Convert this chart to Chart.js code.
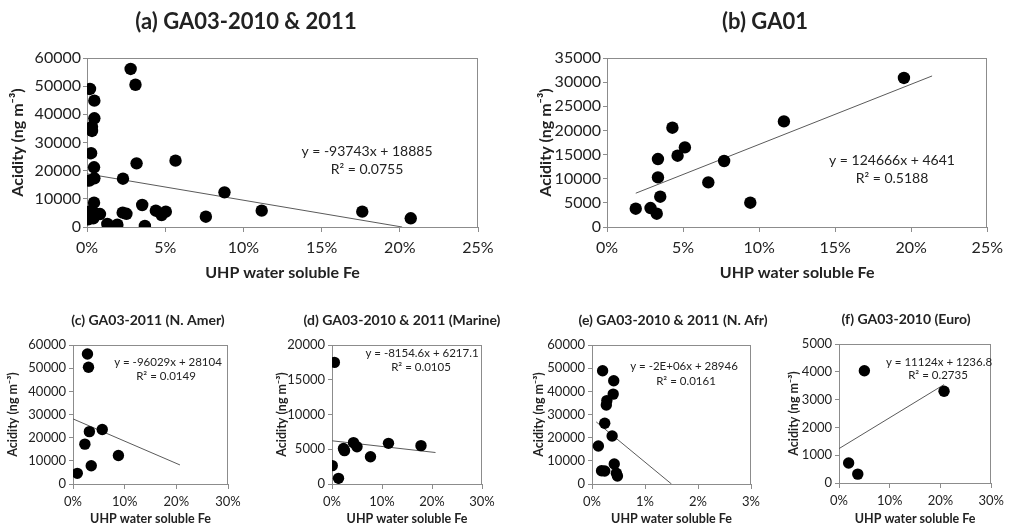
<!DOCTYPE html>
<html>
<head>
<meta charset="utf-8">
<script src="https://cdn.jsdelivr.net/npm/chart.js@4.4.0/dist/chart.umd.min.js"></script>
<style>
  html, body { margin: 0; padding: 0; background: #fff; overflow: hidden; }
  body { width: 1009px; height: 525px; position: relative; }
  canvas { position: absolute; }
</style>
</head>
<body>
<canvas id="pa"></canvas>
<canvas id="pb"></canvas>
<canvas id="pc"></canvas>
<canvas id="pd"></canvas>
<canvas id="pe"></canvas>
<canvas id="pf"></canvas>
<script>
// (a) GA03-2010 & 2011
const aFe = [0.0019, 0.0279, 0.031, 0.0047, 0.0047, 0.0032, 0.0032, 0.0026, 0.0045, 0.0317, 0.0566, 0.023, 0.0015, 0.0047, 0.0879, 0.0045, 0.0353, 0.0019, 0.0024, 0.0051, 0.0083, 0.0008, 0.004, 0.013, 0.0194, 0.0228, 0.0252, 0.037, 0.044, 0.0477, 0.0504, 0.076, 0.1117, 0.176, 0.207];
const aAcid = [49000, 56100, 50500, 44850, 38600, 35600, 34100, 26200, 21200, 22600, 23550, 17150, 16450, 17300, 12300, 8630, 7810, 5430, 5600, 4860, 4600, 2730, 3090, 1070, 820, 5100, 4700, 360, 5790, 4260, 5430, 3650, 5800, 5450, 3100];
const aTrendFe = [0, 0.2015];
const aTrendAcid = [18885, 0];

// (b) GA01
const bFe = [0.0189, 0.0286, 0.0327, 0.035, 0.0335, 0.0335, 0.043, 0.0464, 0.0512, 0.0666, 0.077, 0.0942, 0.1163, 0.1952];
const bAcid = [3790, 3930, 2750, 6280, 10270, 14080, 20560, 14770, 16490, 9240, 13670, 5030, 21870, 30860];
const bTrendFe = [0.0189, 0.2137];
const bTrendAcid = [6997, 31281];

// (c) GA03-2011 (N. Amer)
const cFe = [0.028, 0.030, 0.0566, 0.0317, 0.023, 0.0879, 0.0353, 0.0083];
const cAcid = [56100, 50400, 23550, 22600, 17200, 12300, 7850, 4600];
const cTrendFe = [0, 0.207];
const cTrendAcid = [28104, 8226];

// (d) GA03-2010 & 2011 (Marine)
const dFe = [0.0047, 0.0005, 0.013, 0.023, 0.025, 0.043, 0.05, 0.077, 0.113, 0.178];
const dAcid = [17500, 2640, 815, 5100, 4800, 5950, 5370, 3930, 5850, 5520];
const dTrendFe = [0, 0.207];
const dTrendAcid = [6217, 4529];

// (e) GA03-2010 & 2011 (N. Afr)
const eFe = [0.002, 0.0041, 0.004, 0.0028, 0.0027, 0.0024, 0.0038, 0.0012, 0.0042, 0.0018, 0.0024, 0.0046, 0.0048];
const eAcid = [48900, 44600, 38800, 36000, 34100, 26200, 20700, 16400, 8630, 5740, 5610, 4620, 3450];
const eTrendFe = [0.0008, 0.015];
const eTrendAcid = [26800, 0];

// (f) GA03-2010 (Euro)
const fFe = [0.019, 0.037, 0.05, 0.207];
const fAcid = [720, 320, 4040, 3300];
const fTrendFe = [0, 0.207];
const fTrendAcid = [1237, 3540];

const FONT = 'Lato, "Liberation Sans", sans-serif';
const AXIS = '#8c8c8c';
const INK = '#222';

// titles and trendline equations, drawn in page coordinates
const textPlugin = {
  id: 'panelText',
  afterDraw(chart, args, opts) {
    const ctx = chart.ctx;
    ctx.save();
    ctx.textAlign = 'center';
    ctx.textBaseline = 'middle';
    opts.items.forEach(t => {
      ctx.font = t.font;
      ctx.fillStyle = INK;
      ctx.fillText(t.text, t.x - opts.left, t.y - opts.top);
    });
    ctx.restore();
  }
};

// grey box round the plot area
const framePlugin = {
  id: 'frame',
  beforeDatasetsDraw(chart) {
    const a = chart.chartArea, ctx = chart.ctx;
    ctx.save();
    ctx.strokeStyle = AXIS;
    ctx.lineWidth = 1;
    ctx.strokeRect(Math.round(a.left) + 0.5, Math.round(a.top) + 0.5,
      Math.round(a.right - a.left) - 1, Math.round(a.bottom - a.top));
    ctx.restore();
  }
};

function makePanel(p) {
  const cv = document.getElementById(p.id);
  cv.width = p.box.w;
  cv.height = p.box.h;
  cv.style.left = p.box.left + 'px';
  cv.style.top = p.box.top + 'px';

  const big = p.big;
  const tickSize = big ? 16 : 13;
  const titleSize = big ? 16 : 12.5;
  const eqFont = (big ? 14 : 11.5) + 'px ' + FONT;
  const headFont = 'bold ' + (big ? 22 : 14) + 'px ' + FONT;

  const items = [{ text: p.title, x: p.titlePos[0], y: p.titlePos[1], font: headFont }];
  p.eq.forEach((line, i) => {
    items.push({ text: line, x: p.eqPos[i][0], y: p.eqPos[i][1], font: eqFont });
  });

  new Chart(cv.getContext('2d'), {
    type: 'scatter',
    data: {
      datasets: [{
        data: p.xs.map((x, i) => ({ x: x, y: p.ys[i] })),
        pointRadius: big ? 6.2 : 5.7,
        pointHoverRadius: big ? 6.2 : 5.7,
        pointBackgroundColor: '#000',
        pointBorderWidth: 0
      }, {
        data: p.tx.map((x, i) => ({ x: x, y: p.ty[i] })),
        showLine: true,
        borderColor: '#5a5a5a',
        borderWidth: 1,
        pointRadius: 0,
        pointHoverRadius: 0
      }]
    },
    options: {
      responsive: false,
      animation: false,
      events: [],
      layout: {
        padding: {
          left: 0,
          bottom: 0,
          top: p.area.y0 - p.box.top,
          right: p.box.left + p.box.w - p.area.x1
        }
      },
      plugins: {
        legend: { display: false },
        tooltip: { enabled: false },
        panelText: { items: items, left: p.box.left, top: p.box.top }
      },
      scales: {
        x: {
          type: 'linear',
          min: 0,
          max: p.xMax,
          afterFit: s => { s.height = p.box.top + p.box.h - p.area.y1; },
          ticks: {
            stepSize: p.xStep,
            callback: v => Math.round(v * 100) + '%',
            font: { family: FONT, size: tickSize },
            color: INK,
            padding: big ? 6 : 5,
            maxRotation: 0,
            autoSkip: false
          },
          grid: { drawOnChartArea: false, drawTicks: true, tickLength: 5, color: AXIS },
          border: { color: AXIS },
          title: {
            display: true,
            text: 'UHP water soluble Fe',
            color: INK,
            font: { family: FONT, size: titleSize, weight: 'bold' },
            padding: { top: 0, bottom: big ? 7.4 : 1.5 }
          }
        },
        y: {
          min: 0,
          max: p.yMax,
          afterFit: s => { s.width = p.area.x0 - p.box.left; },
          ticks: {
            stepSize: p.yStep,
            callback: v => String(v),
            font: { family: FONT, size: tickSize },
            color: INK,
            padding: big ? 2 : 3
          },
          grid: { drawOnChartArea: false, drawTicks: true, tickLength: 4, color: AXIS },
          border: { color: AXIS },
          title: {
            display: true,
            text: 'Acidity (ng m⁻³)',
            color: INK,
            font: { family: FONT, size: titleSize, weight: 'bold' },
            padding: { top: p.yTitlePad, bottom: 0 }
          }
        }
      }
    },
    plugins: [framePlugin, textPlugin]
  });
}

makePanel({
  id: 'pa', big: true,
  box: { left: 0, top: 0, w: 500, h: 290 },
  area: { x0: 87, x1: 478, y0: 58, y1: 227 },
  xs: aFe, ys: aAcid, tx: aTrendFe, ty: aTrendAcid,
  xMax: 0.25, xStep: 0.05, yMax: 60000, yStep: 10000, yTitlePad: 8.4,
  title: '(a) GA03-2010 & 2011', titlePos: [246, 22],
  eq: ['y = -93743x + 18885', 'R² = 0.0755'], eqPos: [[367, 151], [367, 169]]
});

makePanel({
  id: 'pb', big: true,
  box: { left: 520, top: 0, w: 489, h: 290 },
  area: { x0: 607, x1: 994, y0: 58, y1: 227 },
  xs: bFe, ys: bAcid, tx: bTrendFe, ty: bTrendAcid,
  xMax: 0.25, xStep: 0.05, yMax: 35000, yStep: 5000, yTitlePad: 16.4,
  title: '(b) GA01', titlePos: [765, 22],
  eq: ['y = 124666x + 4641', 'R² = 0.5188'], eqPos: [[892, 160], [892, 178]]
});

makePanel({
  id: 'pc', big: false,
  box: { left: 0, top: 300, w: 250, h: 228 },
  area: { x0: 73, x1: 228, y0: 345, y1: 484 },
  xs: cFe, ys: cAcid, tx: cTrendFe, ty: cTrendAcid,
  xMax: 0.3, xStep: 0.1, yMax: 60000, yStep: 10000, yTitlePad: 5.8,
  title: '(c) GA03-2011 (N. Amer)', titlePos: [148, 320],
  eq: ['y = -96029x + 28104', 'R² = 0.0149'], eqPos: [[168, 362], [166, 376]]
});

makePanel({
  id: 'pd', big: false,
  box: { left: 250, top: 300, w: 254, h: 228 },
  area: { x0: 332, x1: 482, y0: 345, y1: 484 },
  xs: dFe, ys: dAcid, tx: dTrendFe, ty: dTrendAcid,
  xMax: 0.3, xStep: 0.1, yMax: 20000, yStep: 5000, yTitlePad: 24.2,
  title: '(d) GA03-2010 & 2011 (Marine)', titlePos: [402, 320],
  eq: ['y = -8154.6x + 6217.1', 'R² = 0.0105'], eqPos: [[422, 353], [421, 367]]
});

makePanel({
  id: 'pe', big: false,
  box: { left: 500, top: 300, w: 272, h: 228 },
  area: { x0: 592, x1: 751, y0: 345, y1: 484 },
  xs: eFe, ys: eAcid, tx: eTrendFe, ty: eTrendAcid,
  xMax: 0.03, xStep: 0.01, yMax: 60000, yStep: 10000, yTitlePad: 31.5,
  title: '(e) GA03-2010 & 2011 (N. Afr)', titlePos: [673, 320],
  eq: ['y = -2E+06x + 28946', 'R² = 0.0161'], eqPos: [[684, 366], [686, 381]]
});

makePanel({
  id: 'pf', big: false,
  box: { left: 760, top: 300, w: 249, h: 228 },
  area: { x0: 839, x1: 998, y0: 344, y1: 483 },
  xs: fFe, ys: fAcid, tx: fTrendFe, ty: fTrendAcid,
  xMax: 0.3, xStep: 0.1, yMax: 5000, yStep: 1000, yTitlePad: 26.8,
  title: '(f) GA03-2010 (Euro)', titlePos: [906, 319],
  eq: ['y = 11124x + 1236.8', 'R² = 0.2735'], eqPos: [[939, 362], [938, 375]]
});
</script>
</body>
</html>
